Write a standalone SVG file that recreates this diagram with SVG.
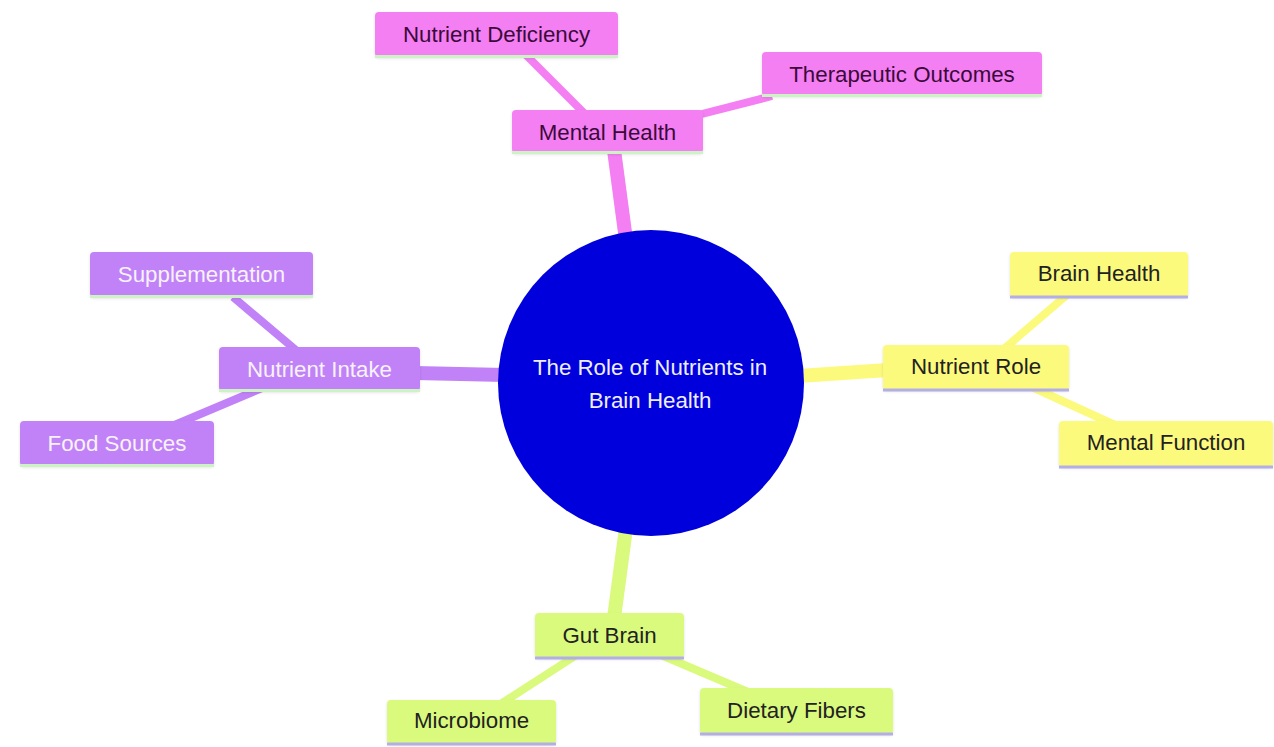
<svg xmlns="http://www.w3.org/2000/svg" width="1274" height="747" viewBox="0 0 1274 747">
  <defs>
    <filter id="sh" x="-10%" y="-20%" width="120%" height="150%">
      <feDropShadow dx="0" dy="1.5" stdDeviation="1.5" flood-color="#000" flood-opacity="0.12"/>
    </filter>
    <style>
      text { font-family: "Liberation Sans", Arial, sans-serif; font-size: 22.3px; text-anchor: middle; }
      .pink rect.box { fill: #f47ff2; }
      .pink text { fill: #3b0a3b; }
      .purple rect.box { fill: #c282f7; }
      .purple text { fill: #f6f2fb; }
      .yellow rect.box { fill: #fcfa7d; }
      .yellow text { fill: #222222; }
      .lime rect.box { fill: #dafa7e; }
      .lime text { fill: #222222; }
      rect.box { filter: url(#sh); }
      .gl { stroke: #ccf3c4; stroke-width: 3; }
      .ll { stroke: #b4aee6; stroke-width: 3; }
      .edge { fill: none; stroke-linecap: butt; }
      .main { stroke-width: 14; }
      .sub { stroke-width: 8; }
      .ep { stroke: #f47ff2; }
      .eu { stroke: #c282f7; }
      .ey { stroke: #fcfa7d; }
      .el { stroke: #dafa7e; }
    </style>
  </defs>
  <rect width="1274" height="747" fill="#ffffff"/>

  <g id="connectors">
    <line class="edge main ep" x1="626" y1="240" x2="614" y2="150"/>
    <line class="edge sub ep" x1="587" y1="116" x2="523" y2="52"/>
    <line class="edge sub ep" x1="698" y1="115" x2="772" y2="96"/>
    <line class="edge main eu" x1="505" y1="375" x2="415" y2="373"/>
    <line class="edge sub eu" x1="297" y1="351" x2="233" y2="297"/>
    <line class="edge sub eu" x1="262" y1="388" x2="172" y2="426"/>
    <line class="edge main ey" x1="798" y1="376" x2="888" y2="370"/>
    <line class="edge sub ey" x1="1005" y1="348" x2="1068" y2="294"/>
    <line class="edge sub ey" x1="1034" y1="388" x2="1115" y2="425"/>
    <line class="edge main el" x1="626" y1="528" x2="614" y2="618"/>
    <line class="edge sub el" x1="575" y1="656" x2="502" y2="703"/>
    <line class="edge sub el" x1="661" y1="655" x2="748" y2="692"/>
  </g>

  <g id="root">
    <circle cx="651" cy="383" r="153" fill="#0000dd"/>
    <text x="650" y="375" fill="#eeeefa">The Role of Nutrients in</text>
    <text x="650" y="408" fill="#eeeefa">Brain Health</text>
  </g>

  <g id="mental-health" class="pink">
    <rect class="box" x="512" y="110" width="191" height="43" rx="4"/>
    <line class="gl" x1="512" y1="152.5" x2="703" y2="152.5"/>
    <text x="607.5" y="140">Mental Health</text>
  </g>
  <g id="nutrient-deficiency" class="pink">
    <rect class="box" x="375" y="12" width="243" height="45" rx="4"/>
    <line class="gl" x1="375" y1="56.5" x2="618" y2="56.5"/>
    <text x="496.5" y="42">Nutrient Deficiency</text>
  </g>
  <g id="therapeutic-outcomes" class="pink">
    <rect class="box" x="762" y="52" width="280" height="44" rx="4"/>
    <line class="gl" x1="762" y1="95.5" x2="1042" y2="95.5"/>
    <text x="902" y="82">Therapeutic Outcomes</text>
  </g>

  <g id="nutrient-intake" class="purple">
    <rect class="box" x="219" y="347" width="201" height="44" rx="4"/>
    <line class="gl" x1="219" y1="390.5" x2="420" y2="390.5"/>
    <text x="319.5" y="377">Nutrient Intake</text>
  </g>
  <g id="supplementation" class="purple">
    <rect class="box" x="90" y="252" width="223" height="45" rx="4"/>
    <line class="gl" x1="90" y1="296.5" x2="313" y2="296.5"/>
    <text x="201.5" y="282">Supplementation</text>
  </g>
  <g id="food-sources" class="purple">
    <rect class="box" x="20" y="421" width="194" height="45" rx="4"/>
    <line class="gl" x1="20" y1="465.5" x2="214" y2="465.5"/>
    <text x="117" y="451">Food Sources</text>
  </g>

  <g id="nutrient-role" class="yellow">
    <rect class="box" x="883" y="345" width="186" height="45" rx="4"/>
    <line class="ll" x1="883" y1="390" x2="1069" y2="390"/>
    <text x="976" y="374">Nutrient Role</text>
  </g>
  <g id="brain-health" class="yellow">
    <rect class="box" x="1010" y="252" width="178" height="45" rx="4"/>
    <line class="ll" x1="1010" y1="297" x2="1188" y2="297"/>
    <text x="1099" y="281">Brain Health</text>
  </g>
  <g id="mental-function" class="yellow">
    <rect class="box" x="1059" y="421" width="214" height="46" rx="4"/>
    <line class="ll" x1="1059" y1="467" x2="1273" y2="467"/>
    <text x="1166" y="450">Mental Function</text>
  </g>

  <g id="gut-brain" class="lime">
    <rect class="box" x="535" y="613" width="149" height="45" rx="4"/>
    <line class="ll" x1="535" y1="658" x2="684" y2="658"/>
    <text x="609.5" y="643">Gut Brain</text>
  </g>
  <g id="microbiome" class="lime">
    <rect class="box" x="387" y="700" width="169" height="44" rx="4"/>
    <line class="ll" x1="387" y1="744" x2="556" y2="744"/>
    <text x="471.5" y="728">Microbiome</text>
  </g>
  <g id="dietary-fibers" class="lime">
    <rect class="box" x="700" y="688" width="193" height="46" rx="4"/>
    <line class="ll" x1="700" y1="734" x2="893" y2="734"/>
    <text x="796.5" y="718">Dietary Fibers</text>
  </g>
</svg>
